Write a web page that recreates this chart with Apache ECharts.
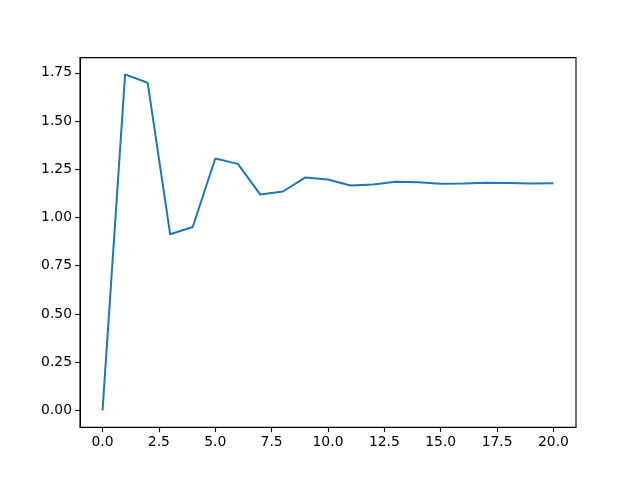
<!DOCTYPE html>
<html>
<head>
<meta charset="utf-8">
<script src="https://cdn.jsdelivr.net/npm/echarts@6/dist/echarts.min.js"></script>
<style>
  html, body { margin: 0; padding: 0; background: #fff; }
  #chart { width: 640px; height: 480px; }
</style>
</head>
<body>
<div id="chart"></div>
<script>
const xValues = [0, 1, 2, 3, 4, 5, 6, 7, 8, 9, 10, 11, 12, 13, 14, 15, 16, 17, 18, 19, 20]
const yValues = [0, 1.742, 1.699, 0.913, 0.951, 1.306, 1.278, 1.119, 1.135, 1.208, 1.197,
  1.166, 1.171, 1.185, 1.183, 1.175, 1.176, 1.180, 1.179, 1.177, 1.178]
const xTicks = [0, 2.5, 5, 7.5, 10, 12.5, 15, 17.5, 20]
const yTicks = [0, 0.25, 0.5, 0.75, 1, 1.25, 1.5, 1.75]

const chart = echarts.init(document.getElementById('chart'))
const font = { fontFamily: 'DejaVu Sans', fontSize: 13.9, color: '#000' }

chart.setOption({
  animation: false,
  grid: {
    left: 80, right: 64, top: 57.6, bottom: 52.8,
    show: true, borderColor: '#000', borderWidth: 1.1, backgroundColor: 'transparent'
  },
  xAxis: {
    type: 'value',
    min: -1,
    max: 21,
    axisLine: { show: true, onZero: false, lineStyle: { color: '#000', width: 1.1 } },
    axisTick: { show: true, length: 4.9, customValues: xTicks, lineStyle: { color: '#000', width: 1.1 } },
    axisLabel: {
      ...font,
      margin: 8,
      customValues: xTicks,
      formatter: (v) => v.toFixed(1)
    },
    splitLine: { show: false }
  },
  yAxis: {
    type: 'value',
    min: -0.0871,
    max: 1.8291,
    axisLine: { show: true, onZero: false, lineStyle: { color: '#000', width: 1.1 } },
    axisTick: { show: true, length: 4.9, customValues: yTicks, lineStyle: { color: '#000', width: 1.1 } },
    axisLabel: {
      ...font,
      margin: 8,
      customValues: yTicks,
      formatter: (v) => v.toFixed(2)
    },
    splitLine: { show: false }
  },
  series: [
    {
      type: 'line',
      data: xValues.map((x, i) => [x, yValues[i]]),
      showSymbol: false,
      symbol: 'none',
      lineStyle: { color: '#1f77b4', width: 2 },
      itemStyle: { color: '#1f77b4' }
    }
  ]
})
</script>
</body>
</html>
